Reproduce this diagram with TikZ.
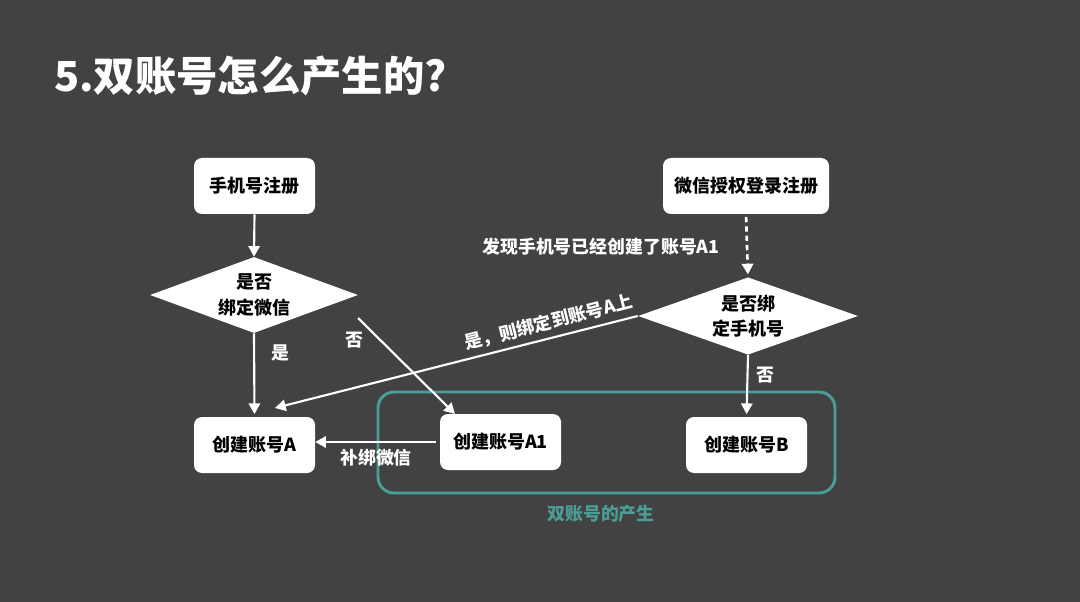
\documentclass[tikz,border=0pt]{standalone}
\usepackage{fontspec}
\setmainfont{Noto Sans CJK SC}
\usetikzlibrary{shapes.geometric,arrows.meta,calc}
\definecolor{bgc}{HTML}{424242}
\definecolor{tealc}{HTML}{4A9E96}
\tikzset{
  px/.style={x=0.75pt,y=-0.75pt},
  box/.style={draw=none,fill=white,rounded corners=6pt,minimum width=90.75pt,minimum height=42pt,inner sep=0pt,text=black,font=\fontsize{13.5}{16}\selectfont\bfseries},
  dia/.style={diamond,fill=white,inner sep=0pt,aspect=2.7,text=black,align=center,font=\fontsize{13.5}{19}\selectfont\bfseries},
  lab/.style={text=white,inner sep=1pt,font=\fontsize{13.4}{16}\selectfont\bfseries},
  arr/.style={draw=white,line width=1.6pt,-{Triangle[length=8pt,width=8.5pt]}},
}
\begin{document}
\begin{tikzpicture}[px]
\fill[bgc] (0,0) rectangle (1080,602);
\useasboundingbox (0,0) rectangle (1080,602);
\node[anchor=west,text=white,inner sep=0pt,font=\fontsize{31}{36}\selectfont\bfseries] (title) at (54,76) {5.双账号怎么产生的?};
% teal group
\draw[tealc,line width=2.2pt,rounded corners=12pt] (378,392) rectangle (835,493);
\node[text=tealc,inner sep=0pt,font=\fontsize{13.4}{16}\selectfont\bfseries] (grp) at (601,514) {双账号的产生};
% nodes
\node[box] (b1) at (254.5,186) {手机号注册};
\node[dia,minimum width=156pt,minimum height=57pt] (d1) at (254,295) {是否\\绑定微信};
\node[box] (bA) at (254.5,445) {创建账号A};
\node[box] (bA1) at (500.5,442) {创建账号A1};
\node[box,minimum width=124.5pt] (b2) at (746,186) {微信授权登录注册};
\node[dia,minimum width=165pt,minimum height=58pt] (d2) at (748,316) {是否绑\\定手机号};
\node[box] (bB) at (746.5,445) {创建账号B};
% free ends
\coordinate (n1) at (358,318);
\coordinate (n2) at (455,414);
\coordinate (y2) at (275,408);
% edges
\draw[arr] (b1.south) -- (d1.north);
\draw[arr,shorten >=2pt] (d1.south) -- (bA.north);
\draw[arr] (n1) -- (n2);
\draw[arr,shorten <=3pt] (bA1.west) -- (bA1.west -| bA.east);
\draw[arr] (d2.west) -- (y2) node[lab,pos=0.235,sloped,above,inner sep=4pt] {是，则绑定到账号A上};
\draw[arr,shorten >=2pt] (d2.south) -- (bB.north);
\draw[arr,dash pattern=on 4pt off 3pt,line width=2pt,shorten <=2pt,shorten >=2pt] (b2.south) -- (d2.north);
% labels
\node[lab] (l1) at (280,353) {是};
\node[lab] (l2) at (354,340) {否};
\node[lab] (l3) at (376,458) {补绑微信};
\node[lab] (l4) at (601,247) {发现手机号已经创建了账号A1};
\node[lab] (l5) at (765,375) {否};
\end{tikzpicture}
\end{document}
